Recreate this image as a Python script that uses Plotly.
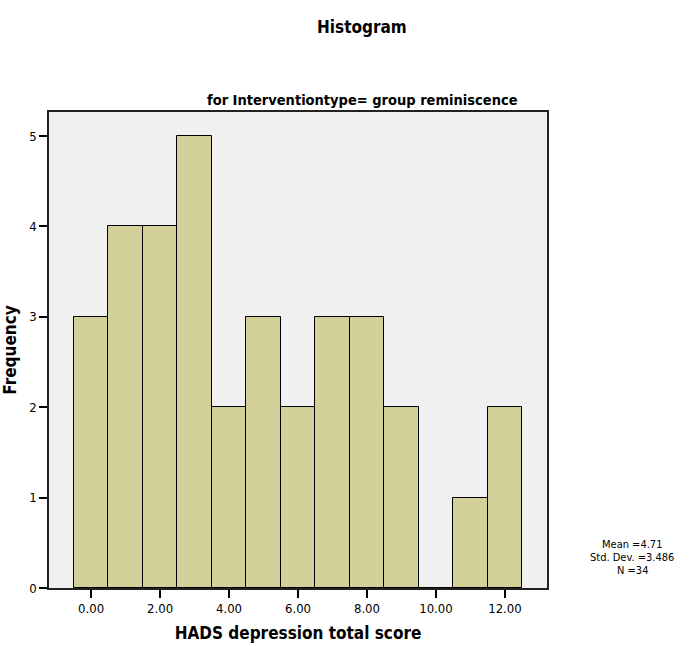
import numpy as np
import plotly.graph_objects as go

# HADS depression total score (integer bins) and their frequencies
scores = [0, 1, 2, 3, 4, 5, 6, 7, 8, 9, 10, 11, 12]
frequency = [3, 4, 4, 5, 2, 3, 2, 3, 3, 2, 0, 1, 2]
x_tick_vals = [0, 2, 4, 6, 8, 10, 12]
x_tick_text = ["0.00", "2.00", "4.00", "6.00", "8.00", "10.00", "12.00"]
y_tick_vals = [0, 1, 2, 3, 4, 5]

# Summary statistics from the binned values
values = np.repeat(scores, frequency)
n = len(values)
mean = values.mean()
sd = values.std(ddof=1)

FONT = "DejaVu Sans Condensed, Liberation Sans Narrow, Arial Narrow, sans-serif"

# plot area in pixels
L, R, T, B = 49, 547, 112, 588
PW, PH = R - L, B - T


def px_x(x):
    return (x - L) / PW


def px_y(y):
    return (B - y) / PH


fig = go.Figure(
    go.Bar(
        x=scores,
        y=frequency,
        width=1,
        marker=dict(color="#D3CF98", line=dict(color="#000000", width=1)),
        hoverinfo="x+y",
    )
)

fig.update_layout(
    width=690,
    height=646,
    margin=dict(l=L, r=690 - R, t=T, b=646 - B),
    paper_bgcolor="white",
    plot_bgcolor="#F0F0F0",
    showlegend=False,
    font=dict(family=FONT, color="#000000", size=12),
    bargap=0,
)

fig.update_xaxes(
    range=[-1.22, 13.22],
    tickvals=x_tick_vals,
    ticktext=x_tick_text,
    ticks="outside",
    ticklen=8,
    tickwidth=1.5,
    tickcolor="#000000",
    showgrid=False,
    zeroline=False,
    showline=True,
    linecolor="#222222",
    linewidth=1.5,
    mirror=True,
    automargin=False,
    tickfont=dict(family=FONT, size=13),
    title=dict(
        text="<b>HADS depression total score</b>",
        font=dict(family=FONT, size=17),
        standoff=12,
    ),
)

fig.update_yaxes(
    range=[0, 5.265],
    tickvals=y_tick_vals,
    ticks="outside",
    ticklen=8,
    tickwidth=1.5,
    tickcolor="#000000",
    showgrid=False,
    zeroline=False,
    showline=True,
    linecolor="#222222",
    linewidth=1.5,
    mirror=True,
    automargin=False,
    tickfont=dict(family=FONT, size=13),
    title=dict(
        text="<b>Frequency</b>",
        font=dict(family=FONT, size=17),
        standoff=8,
    ),
)

fig.add_annotation(
    text="<b>Histogram</b>",
    xref="paper", yref="paper",
    x=px_x(362), y=px_y(27),
    xanchor="center", yanchor="middle",
    showarrow=False,
    font=dict(family=FONT, size=17),
)
fig.add_annotation(
    text="<b>for Interventiontype= group reminiscence</b>",
    xref="paper", yref="paper",
    x=px_x(362), y=px_y(100),
    xanchor="center", yanchor="middle",
    showarrow=False,
    font=dict(family=FONT, size=14.5),
)

stat_lines = [f"Mean ={mean:.2f}", f"Std. Dev. ={sd:.3f}", f"N ={n}"]
for i, line in enumerate(stat_lines):
    fig.add_annotation(
        text=line,
        xref="paper", yref="paper",
        x=px_x(632), y=px_y(544 + 13 * i),
        xanchor="center", yanchor="middle",
        showarrow=False,
        borderpad=0,
        font=dict(family=FONT, size=11),
    )

fig.write_html("out.html")
